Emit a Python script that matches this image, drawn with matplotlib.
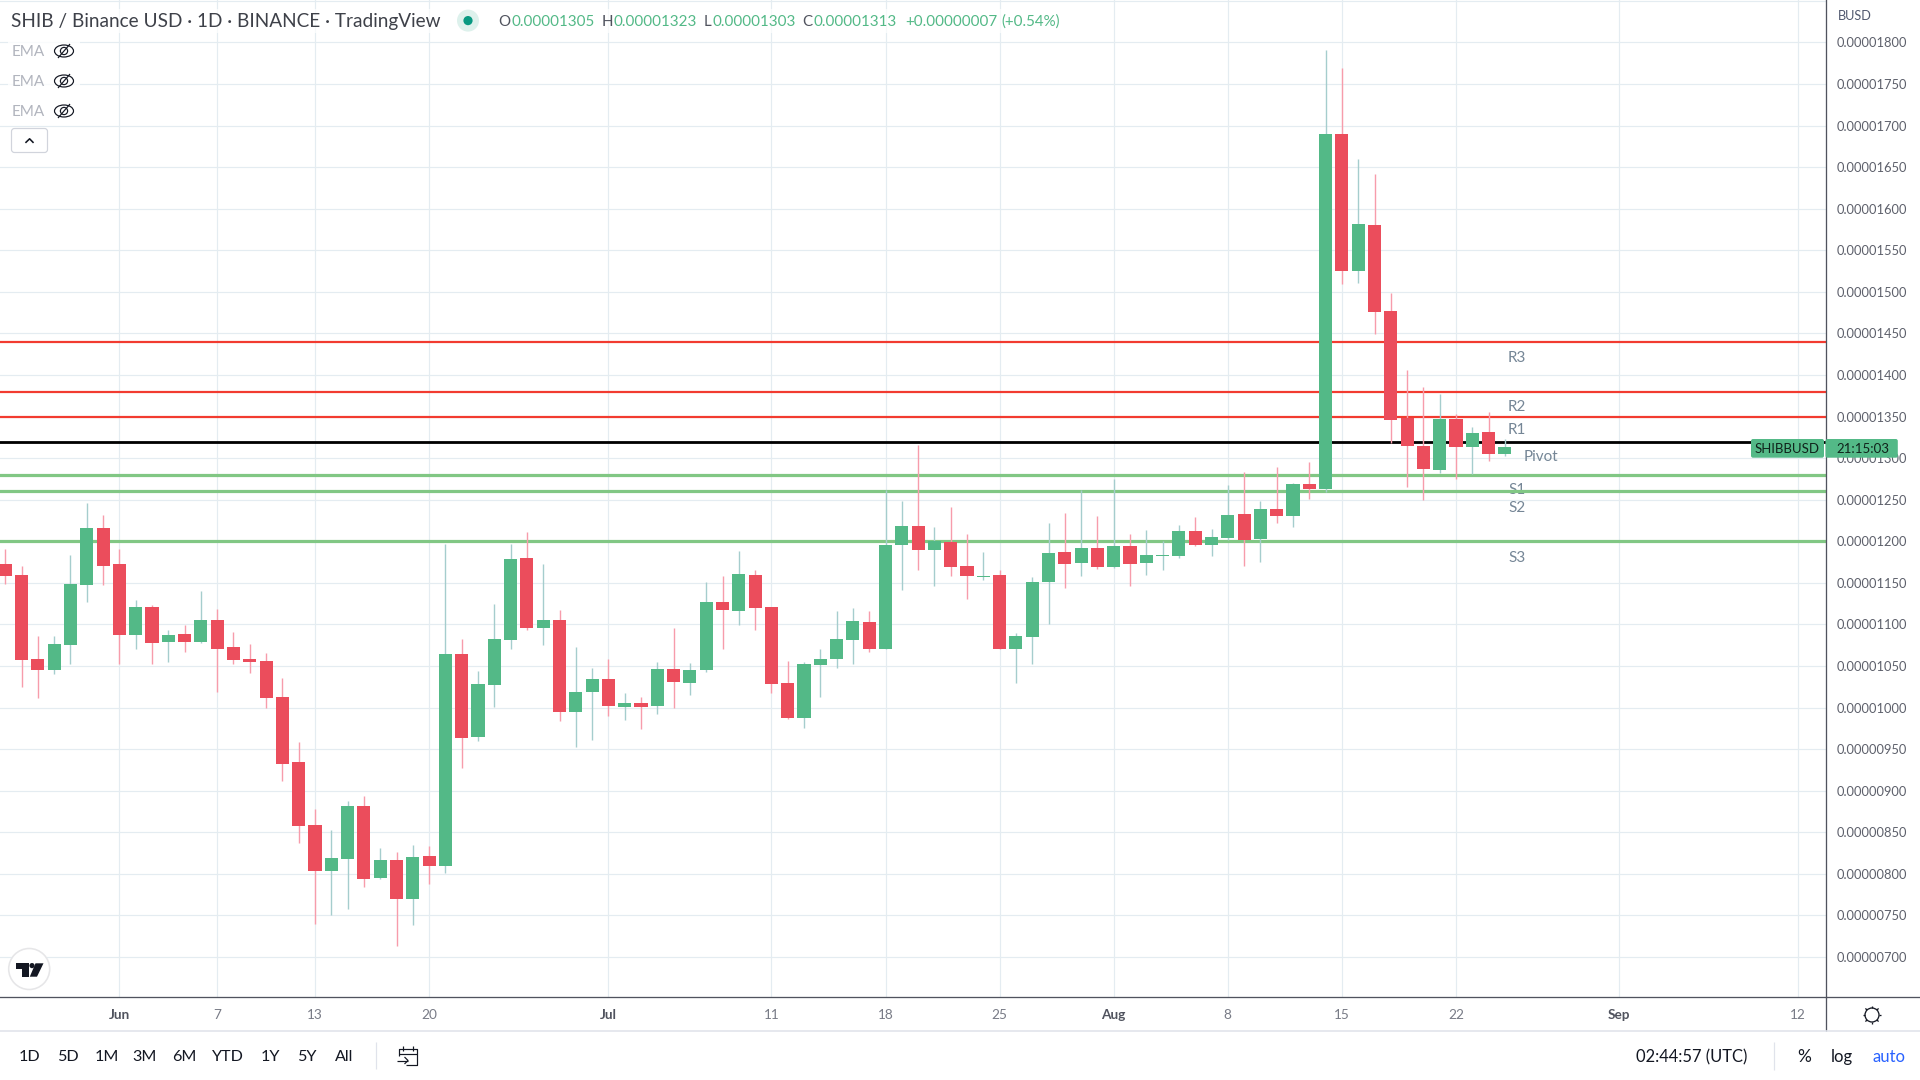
import matplotlib
matplotlib.use("Agg")
import matplotlib.pyplot as plt
import matplotlib.dates as mdates
from matplotlib.patches import Rectangle, Circle, Ellipse, Polygon, FancyBboxPatch
import numpy as np
import pandas as pd

plt.rcParams['font.family'] = ['Lato', 'DejaVu Sans']

# ---------- data (prices in units of 1e-8) ----------
start_date = "2022-05-25"
opens = [1173,1160,1058,1045,1075,1147,1216,1173,1087,1121,
         1079,1089,1079,1105,1073,1058,1056,1013,935,859,
         803,818,882,795,817,770,822,810,1064,965,
         1027,1081,1180,1096,1105,995,1019,1034,1001,1005,
         1002,1046,1030,1045,1127,1116,1160,1121,1030,988,
         1051,1059,1081,1103,1071,1196,1218,1190,1199,1170,
         1157,1160,1070,1085,1151,1187,1174,1192,1169,1194,
         1174,1182,1182,1212,1196,1204,1233,1203,1239,1230,
         1269,1263,1690,1525,1580,1477,1348,1315,1286,1347,
         1313,1331,1305]
closes = [1158,1057,1045,1076,1149,1216,1170,1087,1121,1078,
          1087,1079,1105,1071,1057,1055,1012,932,858,803,
          819,882,794,817,770,820,810,1064,963,1028,
          1083,1179,1096,1105,995,1019,1034,1002,1005,1001,
          1046,1031,1045,1127,1117,1161,1120,1028,988,1053,
          1059,1083,1104,1071,1196,1218,1190,1200,1169,1158,
          1158,1070,1086,1151,1186,1173,1192,1169,1194,1173,
          1184,1184,1212,1196,1205,1232,1202,1239,1230,1269,
          1263,1690,1525,1582,1476,1346,1315,1287,1347,1313,
          1330,1305,1313]
highs = [1191,1170,1086,1086,1184,1246,1232,1191,1129,1123,
         1093,1099,1140,1119,1091,1077,1066,1036,959,878,
         853,888,894,831,826,835,834,1197,1083,1044,
         1125,1197,1211,1173,1117,1073,1048,1059,1017,1013,
         1055,1096,1054,1151,1158,1188,1166,1121,1056,1055,
         1071,1116,1120,1116,1262,1249,1316,1217,1241,1209,
         1187,1166,1090,1157,1222,1234,1262,1230,1275,1209,
         1214,1200,1220,1229,1215,1268,1283,1248,1289,1270,
         1295,1791,1769,1660,1642,1499,1406,1386,1377,1353,
         1337,1355,1323]
lows = [1149,1025,1012,1040,1052,1127,1147,1052,1070,1052,
        1055,1067,1078,1019,1052,1042,1000,912,837,740,
        751,758,784,794,713,738,788,801,927,960,
        1001,1071,1093,1075,984,953,961,990,985,974,
        992,1000,1015,1043,1071,1099,1093,1018,986,976,
        1013,1048,1053,1067,1071,1141,1166,1146,1158,1131,
        1154,1070,1030,1053,1100,1144,1158,1167,1168,1146,
        1160,1166,1180,1194,1182,1202,1170,1175,1222,1217,
        1251,1259,1509,1511,1449,1318,1265,1250,1282,1275,
        1281,1297,1303]

resistance_levels = [1350, 1380, 1440]
pivot_level = 1320
support_levels = [1280, 1260, 1200]

price_ticks = list(range(700, 1801, 50))
date_tick_strs = ["2022-06-01","2022-06-07","2022-06-13","2022-06-20","2022-07-01","2022-07-11",
                  "2022-07-18","2022-07-25","2022-08-01","2022-08-08","2022-08-15","2022-08-22",
                  "2022-09-01","2022-09-12"]
date_tick_labels = ["Jun","7","13","20","Jul","11","18","25","Aug","8","15","22","Sep","12"]
range_buttons = ["1D","5D","1M","3M","6M","YTD","1Y","5Y","All"]

# ---------- colours ----------
UP, DOWN = "#53B987", "#EB4D5C"
UP_WICK, DOWN_WICK = "#A5CDCD", "#F79CAB"
GRID = "#E4ECF1"
AXIS = "#50535E"
PX = 0.72  # points per pixel at dpi=100

W, H = 1920, 1080
fig = plt.figure(figsize=(W/100, H/100), dpi=100, facecolor="white")

AX_RIGHT, AX_BOTTOM = 1825.7, 997.3
ax = fig.add_axes([0, 1-AX_BOTTOM/H, AX_RIGHT/W, AX_BOTTOM/H])
ov = fig.add_axes([0, 0, 1, 1], zorder=5)
ov.set_xlim(0, W); ov.set_ylim(H, 0); ov.axis("off"); ov.patch.set_alpha(0)

dates = mdates.date2num(pd.date_range(start_date, periods=len(opens)))
o, c, h, l = [np.array(v, float)*1e-8 for v in (opens, closes, highs, lows)]
up = c >= o
body_colors = np.where(up, UP, DOWN)
wick_colors = np.where(up, UP_WICK, DOWN_WICK)

ax.vlines(dates, l, h, colors=wick_colors, linewidth=1.4*PX, zorder=3)
ax.bar(dates, np.maximum(np.abs(c-o), 1e-8), bottom=np.minimum(o, c), width=0.8,
       color=body_colors, linewidth=0, zorder=4)

for v in resistance_levels:
    ax.axhline(v*1e-8, color="#F23B30", lw=2.2*PX, zorder=2)
ax.axhline(pivot_level*1e-8, color="#000000", lw=2.8*PX, zorder=2)
for v in support_levels:
    ax.axhline(v*1e-8, color="#81C784", lw=3.2*PX, zorder=2)

ax.set_xlim(dates[0]-0.325, dates[0]+111.68)
ax.set_ylim(651.6e-8, 1851e-8)

# y axis
ax.yaxis.tick_right()
ax.set_yticks([v*1e-8 for v in price_ticks + [1850]])
ax.set_yticklabels([f"{v*1e-8:.8f}" for v in price_ticks] + [""], fontsize=9.3, color="#5D606B")
ax.tick_params(axis="y", length=0, pad=8.2)
# x axis
ticks = mdates.date2num(pd.to_datetime(date_tick_strs))
ax.set_xticks(ticks)
ax.set_xticklabels(date_tick_labels, fontsize=9.8, color="#787B86")
ax.tick_params(axis="x", length=0, pad=8.2)
for t in ax.get_xticklabels():
    if t.get_text() in ("Jun", "Jul", "Aug", "Sep"):
        t.set_fontweight("bold"); t.set_color("#50535E")
ax.grid(True, color=GRID, lw=1.2*PX, zorder=0)
ax.set_axisbelow(True)
for s in ("top", "left"):
    ax.spines[s].set_visible(False)
ax.spines["right"].set_color(AXIS); ax.spines["right"].set_linewidth(1.3*PX)
ax.spines["bottom"].set_color(AXIS); ax.spines["bottom"].set_linewidth(1.3*PX)

# indicator labels (below the level lines)
LBL = "#758696"
for name, x, y in [("R3",1508,358),("R2",1508,407),("R1",1508,430.5),("Pivot",1524,457),
                   ("S1",1508,489.5),("S2",1508,508),("S3",1508,558)]:
    ax.text(x, y, name, transform=ov.transData, fontsize=11, color=LBL, va="center", ha="left",
            zorder=1.5, clip_on=False)

# ---------- overlay furniture, pixel coordinates ----------
def line(xs, ys, color, lw=1.0, **kw):
    ov.plot(xs, ys, color=color, lw=lw*PX, solid_capstyle=kw.pop("cap", "butt"), **kw)

# axis extensions and footer
line([AX_RIGHT, W], [AX_BOTTOM, AX_BOTTOM], AXIS, 1.3)
line([AX_RIGHT, AX_RIGHT], [AX_BOTTOM, 1031], AXIS, 1.3)
line([0, W], [1031, 1031], "#E0E3EB", 1.6)
line([375.5, 375.5], [1042, 1069], "#E0E3EB", 1.2)
line([1774.3, 1774.3], [1042, 1070], "#E0E3EB", 1.2)

# header
ov.add_patch(Rectangle((8, 9), 1056, 24, fc="white", ec="none", alpha=0.7))
for yy in (51, 81, 111):
    ov.add_patch(Rectangle((8, yy-10), 72, 20, fc="white", ec="none", alpha=0.8))
HD = "#3E4149"
ov.text(11.4, 22, "SHIB / Binance USD · 1D · BINANCE · TradingView", fontsize=13.65, color=HD, va="center")
ov.add_patch(Circle((468, 20.6), 11, fc="#DDF1EC", ec="none"))
ov.add_patch(Circle((468, 20.6), 4.6, fc="#089981", ec="none"))
for s, x, col in [("O",498,"#50535E"),("0.00001305",511,UP),("H",601.7,"#50535E"),("0.00001323",613,UP),
                  ("L",704,"#50535E"),("0.00001303",712.7,UP),("C",802.7,"#50535E"),("0.00001313",814,UP),
                  ("+0.00000007",905,UP),("(+0.54%)",1001,UP)]:
    ov.text(x, 22, s, fontsize=10.9, color=col, va="center")

# EMA rows with crossed-out eyes
for yy in (51, 81, 111):
    ov.text(11.4, yy+1, "EMA", fontsize=11, color="#B2B5BE", va="center")
    ov.add_patch(Ellipse((64, yy), 19, 12, fc="none", ec="#131722", lw=1.2*PX))
    ov.add_patch(Circle((64, yy), 3.6, fc="none", ec="#131722", lw=1.2*PX))
    line([58, 70], [yy+7, yy-7], "#131722", 1.2)

# collapse button
ov.add_patch(FancyBboxPatch((11.5, 128.5), 36, 24, boxstyle="round,pad=0,rounding_size=3",
                            fc="white", ec="#D1D4DC", lw=1.2*PX, mutation_aspect=1))
ov.plot([26, 29.6, 33], [142.3, 138.8, 142.3], color="#131722", lw=1.6*PX)

# TradingView mark
ov.add_patch(Circle((29.2, 969), 20.5, fc="white", ec="#E6E6E8", lw=1.6*PX))
ov.add_patch(Polygon([(16,963.3),(29,963.3),(29,976.7),(21.5,976.7),(21.5,968.7),(16,968.7)], fc="#131722", ec="none"))
ov.add_patch(Circle((32, 965.6), 2.6, fc="#131722", ec="none"))
ov.add_patch(Polygon([(35.5,963.3),(43.5,963.3),(37,976.7),(29.8,976.7)], fc="#131722", ec="none"))

# price scale title and last-price tags
ov.text(1837.7, 16.5, "BUSD", fontsize=9.2, color="#50586E", va="center")
TAG = "#53B987"
ov.add_patch(FancyBboxPatch((1751, 439), 73, 18.7, boxstyle="round,pad=0,rounding_size=2", fc=TAG, ec="none"))
ov.add_patch(FancyBboxPatch((1825.5, 439), 72.3, 18.7, boxstyle="round,pad=0,rounding_size=2", fc=TAG, ec="none"))
ov.text(1787.5, 449, "SHIBBUSD", fontsize=9.5, color="#10231B", va="center", ha="center")
ov.text(1863, 449, "21:15:03", fontsize=9.5, color="#10231B", va="center", ha="center")

# gear
gx, gy = 1872, 1015
ov.add_patch(Circle((gx, gy), 7, fc="none", ec="#131722", lw=1.3*PX))
for a in np.deg2rad(np.arange(0, 360, 45)):
    line([gx+7*np.cos(a), gx+9.3*np.cos(a)], [gy+7*np.sin(a), gy+9.3*np.sin(a)], "#131722", 1.3)

# footer
BT = "#131722"
for s, x in zip(range_buttons, [30,68,106.5,145,184,228,270,307,344]):
    ov.text(x, 1057, s, fontsize=11.6, color=BT, va="center", ha="center")
ov.text(1636, 1057, "02:44:57 (UTC)", fontsize=11.9, color=BT, va="center")
ov.text(1804, 1057, "%", fontsize=12.5, color=BT, va="center", ha="center")
ov.text(1842, 1057, "log", fontsize=12, color=BT, va="center", ha="center")
ov.text(1889, 1057, "auto", fontsize=12, color="#2962FF", va="center", ha="center")

# calendar icon
cc = "#131722"
line([399, 399, 416.5, 416.5, 406], [1056, 1049, 1049, 1065, 1065], cc, 1.2)
line([399, 416.5], [1053.5, 1053.5], cc, 1.2)
line([403, 403], [1046, 1051], cc, 1.2)
line([412.5, 412.5], [1046, 1051], cc, 1.2)
line([396.5, 408], [1060.5, 1060.5], cc, 1.2)
line([404.5, 408, 404.5], [1057, 1060.5, 1064], cc, 1.2)

fig.savefig("out.png", dpi=100, facecolor="white")
